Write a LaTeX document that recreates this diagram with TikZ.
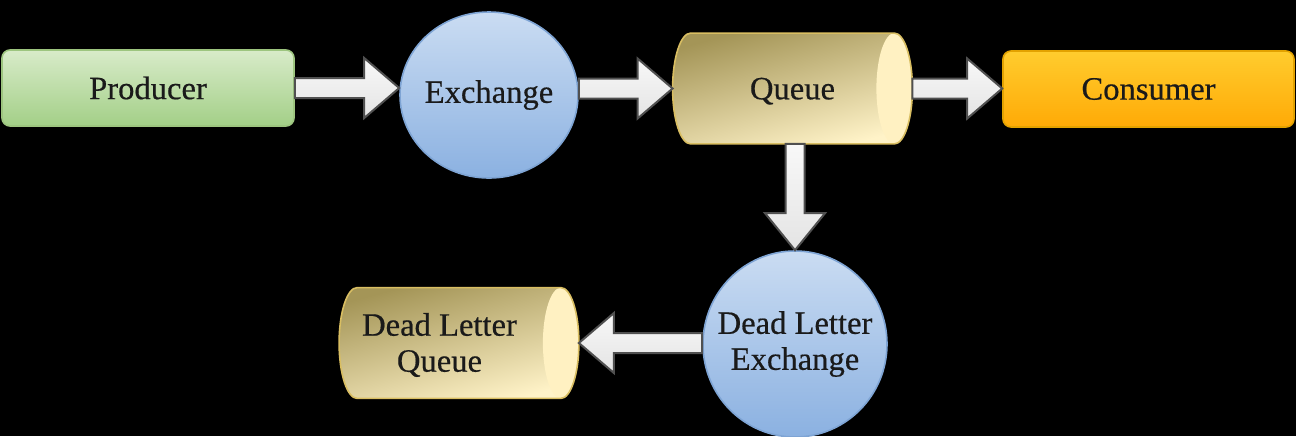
\documentclass[tikz,border=0pt]{standalone}
\usepackage{fontspec}
\setmainfont{Liberation Serif}
\newfontfamily\lblfont[FakeBold=0.5]{Liberation Serif}
\usetikzlibrary{shapes.geometric,backgrounds,calc}
\definecolor{textc}{HTML}{1A1A1A}
\definecolor{grnline}{HTML}{9DC57F}
\definecolor{grntop}{HTML}{D8EBC9}
\definecolor{grnbot}{HTML}{A3CF87}
\definecolor{orgline}{HTML}{E3A200}
\definecolor{orgtop}{HTML}{FFCC2E}
\definecolor{orgbot}{HTML}{FFAA06}
\definecolor{blueline}{HTML}{7EA4D4}
\definecolor{bluetop}{HTML}{CADCF2}
\definecolor{bluebot}{HTML}{8BB1E1}
\definecolor{goldline}{HTML}{D9BE62}
\definecolor{goldtop}{HTML}{A49557}
\definecolor{goldmid}{HTML}{DCCB8E}
\definecolor{goldbot}{HTML}{FFF3C8}
\definecolor{capc}{HTML}{FFF1C2}
\definecolor{arrline}{HTML}{505050}
\definecolor{arrtop}{HTML}{F8F8F8}
\definecolor{arrbot}{HTML}{E4E4E4}
\newcommand{\FatRight}[3]{\draw[fatarrow] let \p1=(#1), \p2=(#2), \p3=(#3) in
  (\x1,\y3+5pt) -- (\x2-17.5pt,\y3+5pt) -- (\x2-17.5pt,\y3+15pt) -- (\x2,\y3)
  -- (\x2-17.5pt,\y3-15pt) -- (\x2-17.5pt,\y3-5pt) -- (\x1,\y3-5pt) -- cycle;}
\newcommand{\FatLeft}[3]{\draw[fatarrow] let \p1=(#1), \p2=(#2), \p3=(#3) in
  (\x1,\y3+5pt) -- (\x2+17.5pt,\y3+5pt) -- (\x2+17.5pt,\y3+15pt) -- (\x2,\y3)
  -- (\x2+17.5pt,\y3-15pt) -- (\x2+17.5pt,\y3-5pt) -- (\x1,\y3-5pt) -- cycle;}
\newcommand{\FatDown}[3]{\draw[fatarrow] let \p1=(#1), \p2=(#2), \p3=(#3) in
  (\x3-4.75pt,\y1) -- (\x3-4.75pt,\y2+18.5pt) -- (\x3-15pt,\y2+18.5pt) -- (\x3,\y2)
  -- (\x3+15pt,\y2+18.5pt) -- (\x3+4.75pt,\y2+18.5pt) -- (\x3+4.75pt,\y1) -- cycle;}
\begin{document}
\begin{tikzpicture}[x=0.5pt,y=-0.5pt,
  lbl/.style={font=\lblfont\fontsize{16.3}{18}\selectfont, text=textc, inner sep=0pt, align=center},
  boxnode/.style={lbl, rectangle, rounded corners=4pt, minimum height=38pt, line width=0.8pt},
  greenbox/.style={draw=grnline, top color=grntop, bottom color=grnbot},
  orangebox/.style={draw=orgline, top color=orgtop, bottom color=orgbot},
  ellnode/.style={lbl, ellipse, inner xsep=-14pt, draw=blueline, line width=0.8pt, top color=bluetop, bottom color=bluebot},
  cylnode/.style={lbl, rectangle, text depth=0pt, minimum width=119.5pt, minimum height=55pt},
  cylbody/.style={top color=goldtop, middle color=goldmid, bottom color=goldbot, shading angle=15},
  cylline/.style={draw=goldline, line width=0.8pt},
  capfill/.style={fill=capc},
  fatarrow/.style={draw=arrline, line width=1pt, line join=miter, top color=arrtop, bottom color=arrbot}]
\useasboundingbox (0,0) rectangle (1296,436);
\begin{pgfonlayer}{background}
\fill[black] (0,0) rectangle (1296,436);
\end{pgfonlayer}
% nodes
\node[boxnode, greenbox, minimum width=146pt] (prod) at (148,88) {Producer};
\node[ellnode, minimum width=89pt, minimum height=83pt] (exch) at (489,95) {Exchange};
\node[cylnode] (q) at (792.5,88.5) {Queue};
\node[boxnode, orangebox, minimum width=145.5pt] (cons) at (1148.5,89) {Consumer};
\node[ellnode, minimum width=92pt, minimum height=93pt] (dlx) at (795,344) {Dead Letter\\Exchange};
\node[cylnode] (dlq) at (459,343) {};
\node[lbl] (dlqt) at ($(dlq.center)+(-19.5,2)$) {Dead Letter\\Queue};
% cylinders
\begin{pgfonlayer}{background}
\foreach \nd in {q,dlq} {
  \path[cylbody] let \p1=(\nd.north west), \p2=(\nd.south east), \n1={(\y1-\y2)/2} in
    (\x1+9pt,\y1) -- (\x2-9pt,\y1) arc[start angle=90,end angle=-90,x radius=9pt,y radius={\n1*1pt}]
    -- (\x1+9pt,\y2) arc[start angle=270,end angle=90,x radius=9pt,y radius={\n1*1pt}] -- cycle;
  \path[capfill] let \p1=(\nd.north west), \p2=(\nd.south east), \n1={(\y1-\y2)/2} in
    (\x2-9pt,{(\y1+\y2)/2}) ellipse [x radius=9pt, y radius={\n1*1pt}];
  \path[cylline] let \p1=(\nd.north west), \p2=(\nd.south east), \n1={(\y1-\y2)/2} in
    (\x1+9pt,\y1) -- (\x2-9pt,\y1) arc[start angle=90,end angle=-90,x radius=9pt,y radius={\n1*1pt}]
    -- (\x1+9pt,\y2) arc[start angle=270,end angle=90,x radius=9pt,y radius={\n1*1pt}] -- cycle;
}
\end{pgfonlayer}
% connectors
\FatRight{prod.east}{exch.west}{prod}
\FatRight{exch.east}{q.west}{q}
\FatRight{q.east}{cons.west}{q}
\FatDown{q.south}{dlx.north}{dlx}
\FatLeft{dlx.west}{dlq.east}{dlq}
\end{tikzpicture}
\end{document}
